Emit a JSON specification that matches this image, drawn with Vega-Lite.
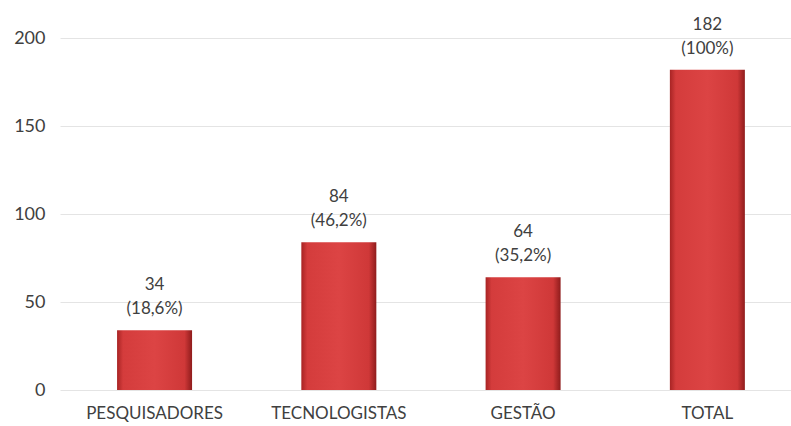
{
  "$schema": "https://vega.github.io/schema/vega-lite/v6.json",
  "width": 731,
  "height": 352,
  "autosize": "none",
  "padding": {"left": 60, "top": 38, "right": 0, "bottom": 36},
  "background": "white",
  "config": {"view": {"stroke": null}, "font": "Lato"},
  "data": {"values": [
    {"cat": "PESQUISADORES", "value": 34, "label": "34\n(18,6%)"},
    {"cat": "TECNOLOGISTAS", "value": 84, "label": "84\n(46,2%)"},
    {"cat": "GESTÃO", "value": 64, "label": "64\n(35,2%)"},
    {"cat": "TOTAL", "value": 182, "label": "182\n(100%)"}
  ]},
  "encoding": {
    "x": {"field": "cat", "type": "nominal", "sort": null,
      "scale": {"paddingInner": 0.593, "paddingOuter": 0.28, "align": 0.553},
      "axis": {"title": null, "labelAngle": 0, "domain": false, "ticks": false, "labelFontSize": 17, "labelColor": "#404040", "labelPadding": 15, "labelFont": "Lato"}},
    "y": {"field": "value", "type": "quantitative",
      "scale": {"domain": [0, 200]},
      "axis": {"title": null, "values": [0, 50, 100, 150, 200], "domain": false, "ticks": false, "labelFontSize": 18, "labelColor": "#404040", "labelPadding": 15, "gridColor": "#e4e4e4", "gridWidth": 1, "labelFont": "Lato"}}
  },
  "layer": [
    {"mark": {"type": "bar", "color": {"gradient": "linear", "x1": 0, "y1": 0, "x2": 1, "y2": 0,
      "stops": [
        {"offset": 0, "color": "#a82424"},
        {"offset": 0.08, "color": "#d43c3c"},
        {"offset": 0.5, "color": "#dc4444"},
        {"offset": 0.9, "color": "#cf3838"},
        {"offset": 1, "color": "#8f1c1c"}
      ]}}},
    {"mark": {"type": "text", "baseline": "bottom", "dy": -36, "lineBreak": "\n", "lineHeight": 24, "fontSize": 17, "color": "#404040", "font": "Lato"},
      "encoding": {"text": {"field": "label"}}}
  ]
}
